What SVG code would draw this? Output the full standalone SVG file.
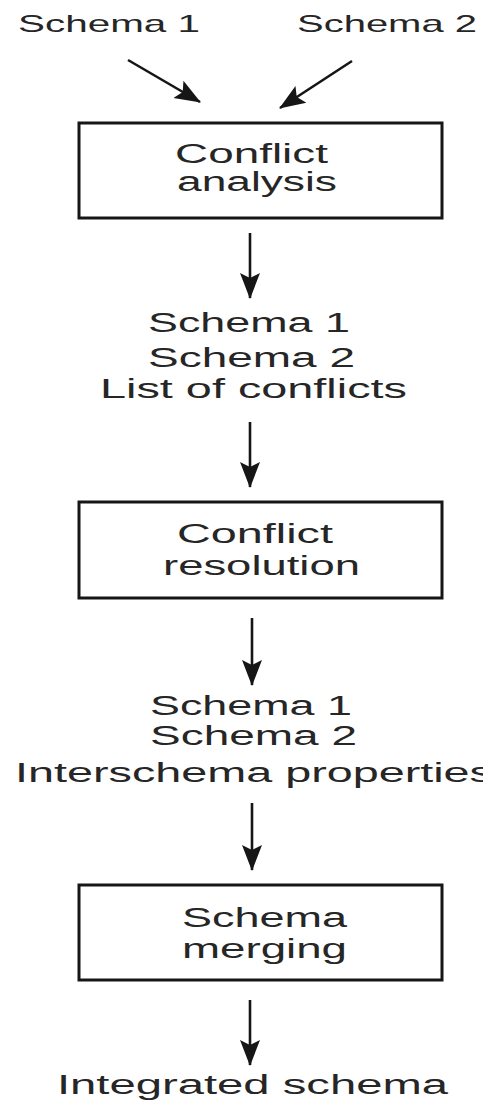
<svg xmlns="http://www.w3.org/2000/svg" width="483" height="1108" viewBox="0 0 483 1108">
  <style>
    .lbl { font-family: "Liberation Sans", Arial, sans-serif; fill: #262626; }
    .top { font-size: 24px; }
    .mid { font-size: 27px; }
    .box { fill: #ffffff; stroke: #161616; stroke-width: 3; }
    .conn { stroke: #161616; stroke-width: 2.6; fill: none; marker-end: url(#head); }
  </style>
  <defs>
    <marker id="head" markerUnits="userSpaceOnUse" viewBox="0 -11 26 22" refX="25" refY="0" markerWidth="26" markerHeight="22" orient="auto">
      <path d="M0,-10 L26,0 L0,10 L5,0 Z" fill="#161616"/>
    </marker>
  </defs>
  <rect width="483" height="1108" fill="#ffffff"/>

  <!-- inputs -->
  <g id="input-schema1">
    <text class="lbl top" x="18" y="32" textLength="182" lengthAdjust="spacingAndGlyphs">Schema 1</text>
  </g>
  <g id="input-schema2">
    <text class="lbl top" x="297" y="32" textLength="180" lengthAdjust="spacingAndGlyphs">Schema 2</text>
  </g>

  <!-- step 1 -->
  <g id="conflict-analysis">
    <rect class="box" x="79" y="123" width="363" height="95"/>
    <text class="lbl mid" x="175" y="163" textLength="153" lengthAdjust="spacingAndGlyphs">Conflict</text>
    <text class="lbl mid" x="177" y="191" textLength="160" lengthAdjust="spacingAndGlyphs">analysis</text>
  </g>

  <g id="result-conflicts">
    <text class="lbl mid" x="148" y="332" textLength="202" lengthAdjust="spacingAndGlyphs">Schema 1</text>
    <text class="lbl mid" x="148" y="367" textLength="207" lengthAdjust="spacingAndGlyphs">Schema 2</text>
    <text class="lbl mid" x="100" y="398" textLength="307" lengthAdjust="spacingAndGlyphs">List of conflicts</text>
  </g>

  <!-- step 2 -->
  <g id="conflict-resolution">
    <rect class="box" x="79" y="502" width="363" height="96"/>
    <text class="lbl mid" x="177" y="543" textLength="156" lengthAdjust="spacingAndGlyphs">Conflict</text>
    <text class="lbl mid" x="163" y="575" textLength="197" lengthAdjust="spacingAndGlyphs">resolution</text>
  </g>

  <g id="result-properties">
    <text class="lbl mid" x="150" y="715" textLength="202" lengthAdjust="spacingAndGlyphs">Schema 1</text>
    <text class="lbl mid" x="150" y="745" textLength="207" lengthAdjust="spacingAndGlyphs">Schema 2</text>
    <text class="lbl mid" x="15" y="782" textLength="478" lengthAdjust="spacingAndGlyphs">Interschema properties</text>
  </g>

  <!-- step 3 -->
  <g id="schema-merging">
    <rect class="box" x="79" y="885" width="363" height="95"/>
    <text class="lbl mid" x="182" y="927" textLength="165" lengthAdjust="spacingAndGlyphs">Schema</text>
    <text class="lbl mid" x="182" y="958" textLength="165" lengthAdjust="spacingAndGlyphs">merging</text>
  </g>

  <g id="output-integrated">
    <text class="lbl mid" x="57" y="1094" textLength="391" lengthAdjust="spacingAndGlyphs">Integrated schema</text>
  </g>

  <!-- connectors -->
  <g id="connectors">
    <line class="conn" x1="128" y1="60" x2="200" y2="102"/>
    <line class="conn" x1="352" y1="61" x2="280" y2="108"/>
    <line class="conn" x1="250" y1="233" x2="250" y2="298"/>
    <line class="conn" x1="250" y1="422" x2="250" y2="487"/>
    <line class="conn" x1="252" y1="618" x2="252" y2="685"/>
    <line class="conn" x1="252" y1="803" x2="252" y2="870"/>
    <line class="conn" x1="250" y1="1000" x2="250" y2="1065"/>
  </g>
</svg>
